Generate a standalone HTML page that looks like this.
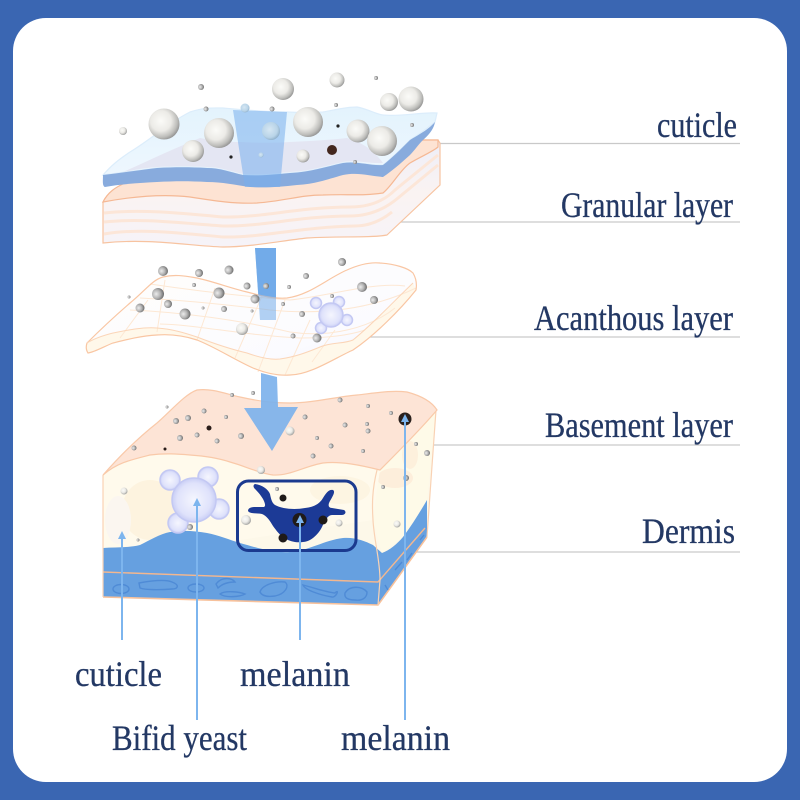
<!DOCTYPE html>
<html lang="en">
<head>
<meta charset="utf-8">
<title>Skin layers diagram</title>
<style>
html,body{margin:0;padding:0;width:800px;height:800px;overflow:hidden;background:#3a66b2}
svg{display:block}
text{font-family:"Liberation Serif",serif;font-size:36px;fill:#233864;stroke:#233864;stroke-width:.3}
.s{fill:url(#sph)}
.d{fill:url(#sphd)}
.sb{fill:url(#sphb)}
.m{fill:url(#mol);stroke:#c3c8f3;stroke-width:1.5}
.l{stroke:#c9c9c9;stroke-width:1.3;fill:none}
.a{stroke:#7db5ee;stroke-width:2;fill:none}
.h{fill:#7db5ee}
.g{fill:none;stroke:#fde8d4;stroke-width:1}
.b{fill:none;stroke:#4f8bd6;stroke-width:1.4}
</style>
</head>
<body>
<svg width="800" height="800" viewBox="0 0 800 800" xmlns="http://www.w3.org/2000/svg">
<defs>
<radialGradient id="sph" cx=".4" cy=".4" r=".66"><stop offset="0" stop-color="#fbfbf8"/><stop offset=".5" stop-color="#ecebe7"/><stop offset=".8" stop-color="#bdbdba"/><stop offset="1" stop-color="#8a8a8a"/></radialGradient>
<radialGradient id="sphd" cx=".35" cy=".5" r=".7"><stop offset="0" stop-color="#ececec"/><stop offset=".5" stop-color="#b4b4b4"/><stop offset="1" stop-color="#5c5c5c"/></radialGradient>
<radialGradient id="sphb" cx=".42" cy=".42" r=".62"><stop offset="0" stop-color="#d6e7f3"/><stop offset=".7" stop-color="#b9d4e8"/><stop offset="1" stop-color="#8cadc8"/></radialGradient>
<radialGradient id="mol" cx=".5" cy=".5" r=".55"><stop offset="0" stop-color="#f5f6fe"/><stop offset=".7" stop-color="#dfe2fb"/><stop offset="1" stop-color="#bfc5f3"/></radialGradient>
<linearGradient id="mem" x1="0" y1="0" x2="0" y2="1"><stop offset="0" stop-color="#e3f3fd"/><stop offset="1" stop-color="#eef7fe"/></linearGradient>
<linearGradient id="str" x1="0" y1="0" x2="0" y2="1"><stop offset="0" stop-color="#eeeef8"/><stop offset=".5" stop-color="#faf3f2"/><stop offset="1" stop-color="#f6f3f8"/></linearGradient>
<linearGradient id="sheet" x1="0" y1="0" x2="1" y2="1"><stop offset="0" stop-color="#fffefb"/><stop offset=".7" stop-color="#fbfbff"/><stop offset="1" stop-color="#eceefb"/></linearGradient>
</defs>

<rect width="800" height="800" fill="#3a66b2"/>
<rect x="13" y="18" width="774" height="764" rx="33" fill="#fff"/>

<!-- leader lines -->
<path class="l" d="M433 143.500H740M393 222H740M367 337H740M425 445H740M415 552H740"/>

<!-- granular layer -->
<path d="M103 202C108 192 116 188 125 184L300 170L423 140H438L440 143V185L387 235C372 238 340 236 307 238C280 241 250 247 223 247C190 246 150 238 103 243Z" fill="url(#str)" stroke="#f7c3a0" stroke-width="1.2"/>
<path d="M104 213C140 209 180 213 223 217C260 218 300 207 350 207C370 207 385 200 395 190L438 155M104 222C140 218 180 223 223 226C260 227 300 216 350 216C370 216 385 209 398 198L438 165M104 234C140 228 180 233 223 237C260 238 300 227 355 226C370 226 382 220 392 212" fill="none" stroke="#fce6d8" stroke-width="3"/>
<path d="M103 202C135 196 165 194 190 197C215 201 235 204 257 203C285 201 300 195 323 195C345 194 365 196 383 193C392 186 400 170 410 163C420 157 432 152 438 147L438 140H423L300 165L125 183C116 187 108 192 103 202Z" fill="#fde3d3" stroke="#f5b894" stroke-width="1.2"/>

<!-- cuticle membrane -->
<path d="M103 175C112 165 118 160 130 152C150 140 170 122 190 112C205 107 215 108 223 108C245 110 265 112 287 112C300 113 312 112 323 112C335 110 345 107 357 107C368 109 375 114 383 115C400 117 420 112 437 113L435 122C425 130 418 135 410 140C400 150 392 158 383 165C370 166 358 161 343 163C325 167 310 172 290 173C270 175 258 176 243 175C230 172 220 168 207 168C190 167 175 167 157 168C140 170 120 173 103 175Z" fill="url(#mem)" stroke="#dcedfb" stroke-width="1.2"/>
<path d="M123 172C150 160 175 148 200 138C215 141 228 142 240 142C257 143 273 143 290 142C310 141 330 140 347 138C360 142 372 148 383 163C370 164 358 160 343 162C325 166 310 171 290 172C270 174 258 175 243 174C230 171 220 167 207 167C190 166 175 166 157 167C145 168 133 170 123 172Z" fill="#e4e6f3"/>
<path d="M103 175C120 173 140 170 157 168C175 167 190 167 207 168C220 168 230 172 243 175C258 176 270 175 290 173C310 172 325 167 343 163C358 161 370 166 383 165C392 158 400 150 410 140C418 135 428 130 435 122C434 128 430 134 423 140C418 145 414 151 410 155C400 164 392 171 383 177C370 176 358 172 343 175C325 180 315 184 297 185C280 187 265 188 250 187C235 185 222 182 207 182C190 181 175 181 157 182C140 183 120 184 105 187C102 186 103 180 103 175Z" fill="#88abdd"/>
<path d="M233 110L287 112L280 187L245 187Z" fill="#78afec" opacity=".55"/>

<!-- top spheres -->
<g>
<circle class="s" cx="164" cy="124" r="15.500"/><circle class="s" cx="219" cy="133" r="15"/><circle class="s" cx="193" cy="151" r="11"/><circle class="s" cx="308" cy="122" r="15"/><circle class="s" cx="358" cy="131" r="11.500"/><circle class="s" cx="382" cy="141" r="15"/><circle class="s" cx="283" cy="89" r="11"/><circle class="s" cx="337" cy="80" r="7.500"/><circle class="s" cx="389" cy="102" r="9"/><circle class="s" cx="411" cy="99" r="12.500"/><circle class="sb" cx="271" cy="131" r="9"/><circle class="s" cx="303" cy="156" r="6.500"/><circle class="sb" cx="245" cy="108" r="4.500"/><circle class="s" cx="123" cy="131" r="4"/><circle class="d" cx="201" cy="87" r="3"/><circle class="d" cx="206" cy="109" r="2.500"/><circle class="d" cx="272" cy="109" r="2.500"/><circle class="d" cx="336" cy="105" r="2"/><circle class="d" cx="376" cy="78" r="2"/><circle class="d" cx="412" cy="125" r="2"/><circle class="d" cx="355" cy="162" r="2"/><circle class="sb" cx="261" cy="155" r="2.500"/>
<circle cx="332" cy="150" r="5" fill="#43271e"/><circle cx="231" cy="157" r="1.600" fill="#222"/><circle cx="338" cy="126" r="1.600" fill="#222"/>
</g>

<!-- beam between layers -->
<path d="M255 248H276L276 320H260Z" fill="#72abe9"/>

<!-- acanthous sheet -->
<path d="M87 343C100 330 115 316 130 303C145 291 152 280 163 277C175 274 185 276 197 278C215 282 230 288 247 292C262 296 275 299 287 298C310 295 328 278 347 270C358 265 370 262 380 263C395 264 408 268 413 273C416 278 417 284 416 290C400 310 375 335 353 350C335 358 310 375 290 375C278 376 265 373 253 368C235 360 215 347 197 340C182 335 170 334 157 335C140 336 125 340 113 343C105 346 95 352 88 353C86 350 86 346 87 343Z" fill="url(#sheet)"/>
<path d="M87 343C95 338 105 335 113 333C128 330 142 327 157 328C172 329 185 333 197 337C215 344 230 349 247 353C258 357 270 360 280 359C295 357 308 352 320 347C332 342 344 344 353 340C375 322 395 300 413 283L416 290C400 310 375 335 353 350C335 358 310 375 290 375C278 376 265 373 253 368C235 360 215 347 197 340C182 335 170 334 157 335C140 336 125 340 113 343C105 346 95 352 88 353C86 350 86 346 87 343Z" fill="#fff8ea"/>
<g class="g">
<path d="M140 298C180 300 230 305 270 310C320 315 370 310 416 288"/>
<path d="M130 310C180 312 240 320 290 332C330 338 370 328 395 308"/>
<path d="M150 284C190 290 240 296 290 300C330 296 370 282 405 286"/>
<path d="M160 324C200 325 240 335 300 338C330 338 350 335 365 330"/>
<path d="M120 338L148 300M157 332L165 280M197 340L215 288M235 358L262 296M258 372L285 300M285 375L310 320M312 362L335 330"/>
</g>
<path d="M87 343C100 330 115 316 130 303C145 291 152 280 163 277C175 274 185 276 197 278C215 282 230 288 247 292C262 296 275 299 287 298C310 295 328 278 347 270C358 265 370 262 380 263C395 264 408 268 413 273C416 278 417 284 416 290C400 310 375 335 353 350C335 358 310 375 290 375C278 376 265 373 253 368C235 360 215 347 197 340C182 335 170 334 157 335C140 336 125 340 113 343C105 346 95 352 88 353C86 350 86 346 87 343Z" fill="none" stroke="#f9c6a3" stroke-width="1.200"/>
<path d="M87 343C95 338 105 335 113 333C128 330 142 327 157 328C172 329 185 333 197 337C215 344 230 349 247 353C258 357 270 360 280 359C295 357 308 352 320 347C332 342 344 344 353 340C375 322 395 300 413 283" fill="none" stroke="#fbd5b8" stroke-width="1"/>
<path d="M255 248H276L276 320H260Z" fill="#72abe9" opacity=".55"/>
<circle class="m" cx="316" cy="303" r="5.500"/><circle class="m" cx="339" cy="302" r="5.500"/><circle class="m" cx="347" cy="320" r="5.500"/><circle class="m" cx="321" cy="328" r="5.500"/><circle class="m" cx="331" cy="315" r="12"/>
<g>
<circle class="d" cx="163" cy="271" r="5"/><circle class="d" cx="199" cy="273" r="4"/><circle class="d" cx="229" cy="270" r="4.500"/><circle class="d" cx="247" cy="286" r="3.500"/><circle class="d" cx="342" cy="262" r="4"/><circle class="d" cx="306" cy="276" r="3"/><circle class="d" cx="158" cy="294" r="6"/><circle class="d" cx="219" cy="293" r="5.500"/><circle class="d" cx="255" cy="299" r="4.500"/><circle class="d" cx="140" cy="308" r="4.500"/><circle class="d" cx="168" cy="304" r="4"/><circle class="d" cx="185" cy="314" r="5.500"/><circle class="d" cx="224" cy="309" r="3"/><circle class="d" cx="302" cy="314" r="3"/><circle class="s" cx="242" cy="329" r="6"/><circle class="d" cx="362" cy="287" r="5"/><circle class="d" cx="374" cy="300" r="4"/><circle class="d" cx="317" cy="338" r="4.500"/><circle class="d" cx="293" cy="336" r="2.500"/><circle class="d" cx="283" cy="304" r="2"/><circle class="d" cx="332" cy="296" r="2"/><circle class="d" cx="129" cy="297" r="1.500"/><circle class="d" cx="194" cy="285" r="2"/><circle class="d" cx="266" cy="286" r="3"/><circle class="d" cx="289" cy="287" r="2"/><circle class="d" cx="203" cy="308" r="1.500"/><circle class="d" cx="252" cy="311" r="1.500"/>
</g>

<!-- basement block -->
<path d="M103 475L436 410L427 537L378 605L103 597Z" fill="#fdf8e9"/>
<path d="M377 470L436 410L427 500L403 537L382 553L373 520Z" fill="#fefae8"/>
<ellipse cx="395" cy="478" rx="18" ry="10" fill="#fdeedb"/><ellipse cx="410" cy="455" rx="8" ry="14" fill="#fdf0dc"/>
<path d="M103 475C117 463 130 460 150 455C165 453 178 454 190 455C205 456 218 458 230 462C245 466 258 473 273 475C290 476 305 466 323 463C340 461 360 465 380 470L377 490L373 520L240 540L103 548Z" fill="#fffaec"/>
<ellipse cx="150" cy="510" rx="28" ry="30" fill="#fdf3df"/><ellipse cx="118" cy="520" rx="13" ry="24" fill="#fbf6f0"/><ellipse cx="340" cy="490" rx="30" ry="14" fill="#fdf5e2"/>
<path d="M103 548C115 547 128 548 140 545C150 540 160 534 170 532C183 530 195 531 207 533C218 535 230 540 240 543C258 548 273 553 290 552C308 551 325 540 343 538C355 537 365 541 373 545L382 553C390 550 397 544 403 537C412 525 420 512 427 500L427 537L378 605L103 597Z" fill="#66a0e0"/>
<path d="M103 572L378 582L425 528" fill="none" stroke="#f3b78f" stroke-width="1.400"/>
<path d="M103 597L378 605L427 537" fill="none" stroke="#f7c19b" stroke-width="1.600"/>
<path d="M377 470C372 490 372 505 373 520C374 540 380 560 380 580L378 605" fill="none" stroke="#f9d2b4" stroke-width="1.200"/>
<path d="M103 475L103 597M436 410L431 480L427 537" fill="none" stroke="#f9d2b4" stroke-width="1.200"/>
<!-- dermis blobs -->
<g class="b">
<ellipse cx="121" cy="589" rx="8" ry="4.500"/>
<path d="M139 583C150 581 165 579 172 582C180 585 178 589 172 589C160 590 145 590 140 588Z"/>
<ellipse cx="196" cy="588" rx="8" ry="4"/>
<path d="M216 584C222 576 232 578 235 582C228 582 222 584 218 588ZM220 594C225 590 240 592 245 594C240 597 225 598 220 594Z"/>
<path d="M260 592C262 585 275 581 285 582C290 586 285 594 275 596C268 597 262 596 260 592Z"/>
<path d="M303 585C315 588 325 592 335 593C340 588 336 598 332 597C320 595 305 590 303 585Z"/>
<path d="M345 593C350 585 362 586 367 592C367 598 362 601 355 600C348 600 344 598 345 593Z"/>
<path d="M385 585L388 590M395 570L402 562M407 560L412 553M420 540L424 535"/>
</g>
<!-- top surface -->
<path d="M103 475C118 458 138 438 157 423C170 412 185 394 197 390C212 388 226 394 240 397C258 401 272 403 290 403C312 403 335 397 357 395C375 393 392 390 407 392C422 396 432 402 437 410C420 430 395 455 380 470C360 465 340 461 323 463C305 466 290 476 273 475C258 473 245 466 230 462C218 458 205 456 190 455C178 454 165 453 150 455C130 460 117 463 103 475Z" fill="#fde4d6" stroke="#f9c9a9" stroke-width="1.200"/>

<!-- main arrow -->
<path d="M261 373L277 377L278 407L298 407L272 451L244 408L261 408Z" fill="#7db2ec" opacity=".92"/>

<!-- bifid molecule -->
<circle class="m" cx="170" cy="480" r="10"/><circle class="m" cx="208" cy="477" r="10"/><circle class="m" cx="219" cy="509" r="10"/><circle class="m" cx="178" cy="523" r="10"/><circle class="m" cx="194" cy="500" r="22"/>

<!-- melanocyte box -->
<rect x="237.500" y="481" width="118.500" height="69.500" rx="11" fill="none" stroke="#1b3a8f" stroke-width="3"/>
<path d="M255 484C262 485 268 489 270 494C271 499 272 503 275 505C282 509 295 510 305 508C315 507 320 503 323 498C326 493 329 489 333 490C336 492 332 497 329 503C328 506 329 508 332 508L344 510C347 512 345 515 342 515L332 515C328 515 325 520 322 527C318 535 310 542 303 542C295 543 290 541 286 539C280 536 276 530 273 526C270 521 267 516 262 514C256 513 250 514 248 511C248 508 251 507 255 507L264 507C266 506 265 503 263 499C260 494 257 491 255 489C253 487 253 485 255 484Z" fill="#1c3a96"/>
<circle cx="283" cy="498" r="3.500" fill="#1f1a18"/><circle cx="323" cy="520" r="4.500" fill="#1f1a18"/><circle cx="283" cy="538" r="4.500" fill="#1f1a18"/><circle cx="299.500" cy="520" r="7" fill="#1f1a18"/>

<!-- basement spheres -->
<g>
<circle class="s" cx="290" cy="431" r="4.500"/><circle class="s" cx="261" cy="470" r="4"/><circle class="d" cx="176" cy="421" r="3"/><circle class="d" cx="188" cy="418" r="3"/><circle class="d" cx="204" cy="411" r="2.500"/><circle class="d" cx="226" cy="417" r="2"/><circle class="d" cx="180" cy="438" r="3"/><circle class="d" cx="197" cy="435" r="2.500"/><circle class="d" cx="217" cy="441" r="2.500"/><circle class="d" cx="241" cy="436" r="3"/><circle class="d" cx="134" cy="448" r="2.500"/><circle class="d" cx="305" cy="417" r="2.500"/><circle class="d" cx="317" cy="438" r="2"/><circle class="d" cx="345" cy="425" r="2.500"/><circle class="d" cx="367" cy="424" r="2"/><circle class="d" cx="368" cy="431" r="2.500"/><circle class="d" cx="331" cy="446" r="2.500"/><circle class="d" cx="313" cy="456" r="2.500"/><circle class="d" cx="363" cy="451" r="2"/><circle class="d" cx="391" cy="413" r="2"/><circle class="d" cx="368" cy="406" r="2"/><circle class="d" cx="340" cy="400" r="2.500"/><circle class="d" cx="232" cy="395" r="2"/><circle class="d" cx="253" cy="393" r="2"/><circle class="d" cx="167" cy="407" r="1.500"/><circle class="d" cx="416" cy="444" r="2"/><circle class="d" cx="427" cy="453" r="3"/><circle class="d" cx="406" cy="478" r="3"/><circle class="d" cx="383" cy="487" r="2"/><circle class="s" cx="397" cy="524" r="3.500"/><circle class="s" cx="124" cy="491" r="3.500"/><circle class="d" cx="138" cy="540" r="1.500"/><circle class="s" cx="246" cy="520" r="5"/><circle class="s" cx="339" cy="523" r="3.500"/><circle class="d" cx="277" cy="489" r="2"/><circle class="d" cx="190" cy="527" r="3"/>
<circle cx="209" cy="428" r="2.500" fill="#2a1d1a"/><circle cx="165" cy="449" r="1.500" fill="#2a1d1a"/><circle cx="405" cy="419" r="6.500" fill="#2a201d"/>
</g>

<!-- callout arrows -->
<path class="a" d="M122 640V538M197 720V504M300 640V522M405 720V420"/>
<path class="h" d="M122 531L126 539H118ZM197 498L201 506H193ZM300 515L304 523H296ZM405 414L409 422H401Z"/>

<!-- labels -->
<text x="657" y="137" textLength="80" lengthAdjust="spacingAndGlyphs">cuticle</text>
<text x="561" y="217" textLength="172" lengthAdjust="spacingAndGlyphs">Granular layer</text>
<text x="534" y="330" textLength="199" lengthAdjust="spacingAndGlyphs">Acanthous layer</text>
<text x="545" y="437" textLength="188" lengthAdjust="spacingAndGlyphs">Basement layer</text>
<text x="642" y="543" textLength="93" lengthAdjust="spacingAndGlyphs">Dermis</text>
<text x="75" y="686" textLength="87" lengthAdjust="spacingAndGlyphs">cuticle</text>
<text x="240" y="686" textLength="110" lengthAdjust="spacingAndGlyphs">melanin</text>
<text x="112" y="750" textLength="135" lengthAdjust="spacingAndGlyphs">Bifid yeast</text>
<text x="341" y="750" textLength="109" lengthAdjust="spacingAndGlyphs">melanin</text>
</svg>
</body>
</html>
